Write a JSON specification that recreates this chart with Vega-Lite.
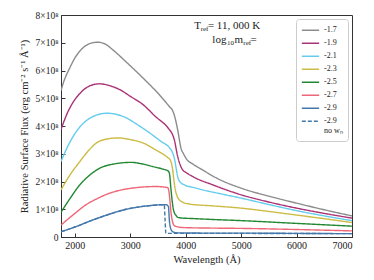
{
  "$schema": "https://vega.github.io/schema/vega-lite/v6.json",
  "width": 291,
  "height": 222,
  "autosize": {"type": "none"},
  "padding": {"left": 61, "top": 15, "right": 22, "bottom": 43},
  "config": {
    "font": "Liberation Serif",
    "view": {"stroke": "#333333", "strokeWidth": 1},
    "text": {"fontWeight": "normal", "color": "#222222"},
    "axis": {"grid": false, "domainColor": "#333333", "tickColor": "#333333", "labelColor": "#222222", "titleColor": "#222222", "labelFont": "Liberation Serif", "titleFont": "Liberation Serif", "titleFontWeight": "normal", "labelFontWeight": "normal", "labelFontSize": 10, "titleFontSize": 10.5, "labelOverlap": false}
  },
  "layer": [
    {
      "data": {"values": [
        {"series": "-1.7", "wl": 1750, "flux": 5.28}, {"series": "-1.7", "wl": 1800, "flux": 5.6}, {"series": "-1.7", "wl": 1910, "flux": 6.1}, {"series": "-1.7", "wl": 2000, "flux": 6.45}, {"series": "-1.7", "wl": 2090, "flux": 6.7}, {"series": "-1.7", "wl": 2200, "flux": 6.9}, {"series": "-1.7", "wl": 2300, "flux": 6.99}, {"series": "-1.7", "wl": 2420, "flux": 7.02}, {"series": "-1.7", "wl": 2550, "flux": 6.95}, {"series": "-1.7", "wl": 2700, "flux": 6.72}, {"series": "-1.7", "wl": 2930, "flux": 6.3}, {"series": "-1.7", "wl": 3100, "flux": 5.98}, {"series": "-1.7", "wl": 3290, "flux": 5.61}, {"series": "-1.7", "wl": 3500, "flux": 5.18}, {"series": "-1.7", "wl": 3705, "flux": 4.7}, {"series": "-1.7", "wl": 3765, "flux": 4.55}, {"series": "-1.7", "wl": 3800, "flux": 4.35}, {"series": "-1.7", "wl": 3855, "flux": 3.86}, {"series": "-1.7", "wl": 3915, "flux": 3.2}, {"series": "-1.7", "wl": 3960, "flux": 3.0}, {"series": "-1.7", "wl": 4004, "flux": 2.84}, {"series": "-1.7", "wl": 4150, "flux": 2.6}, {"series": "-1.7", "wl": 4300, "flux": 2.42}, {"series": "-1.7", "wl": 4600, "flux": 2.08}, {"series": "-1.7", "wl": 5000, "flux": 1.76}, {"series": "-1.7", "wl": 5500, "flux": 1.47}, {"series": "-1.7", "wl": 6000, "flux": 1.22}, {"series": "-1.7", "wl": 6500, "flux": 0.98}, {"series": "-1.7", "wl": 7000, "flux": 0.76},
        {"series": "-1.9", "wl": 1750, "flux": 3.87}, {"series": "-1.9", "wl": 1850, "flux": 4.4}, {"series": "-1.9", "wl": 1960, "flux": 4.83}, {"series": "-1.9", "wl": 2080, "flux": 5.15}, {"series": "-1.9", "wl": 2200, "flux": 5.37}, {"series": "-1.9", "wl": 2330, "flux": 5.49}, {"series": "-1.9", "wl": 2450, "flux": 5.52}, {"series": "-1.9", "wl": 2600, "flux": 5.47}, {"series": "-1.9", "wl": 2810, "flux": 5.31}, {"series": "-1.9", "wl": 3000, "flux": 5.07}, {"series": "-1.9", "wl": 3230, "flux": 4.77}, {"series": "-1.9", "wl": 3450, "flux": 4.35}, {"series": "-1.9", "wl": 3705, "flux": 3.87}, {"series": "-1.9", "wl": 3760, "flux": 3.7}, {"series": "-1.9", "wl": 3795, "flux": 3.5}, {"series": "-1.9", "wl": 3855, "flux": 2.9}, {"series": "-1.9", "wl": 3900, "flux": 2.6}, {"series": "-1.9", "wl": 3944, "flux": 2.42}, {"series": "-1.9", "wl": 4000, "flux": 2.33}, {"series": "-1.9", "wl": 4124, "flux": 2.18}, {"series": "-1.9", "wl": 4500, "flux": 1.87}, {"series": "-1.9", "wl": 5000, "flux": 1.52}, {"series": "-1.9", "wl": 5500, "flux": 1.26}, {"series": "-1.9", "wl": 6000, "flux": 1.04}, {"series": "-1.9", "wl": 6500, "flux": 0.85}, {"series": "-1.9", "wl": 7000, "flux": 0.68},
        {"series": "-2.1", "wl": 1750, "flux": 2.72}, {"series": "-2.1", "wl": 1880, "flux": 3.3}, {"series": "-2.1", "wl": 2030, "flux": 3.81}, {"series": "-2.1", "wl": 2200, "flux": 4.18}, {"series": "-2.1", "wl": 2400, "flux": 4.4}, {"series": "-2.1", "wl": 2570, "flux": 4.46}, {"series": "-2.1", "wl": 2750, "flux": 4.42}, {"series": "-2.1", "wl": 2930, "flux": 4.29}, {"series": "-2.1", "wl": 3150, "flux": 4.02}, {"series": "-2.1", "wl": 3350, "flux": 3.75}, {"series": "-2.1", "wl": 3550, "flux": 3.45}, {"series": "-2.1", "wl": 3705, "flux": 3.22}, {"series": "-2.1", "wl": 3760, "flux": 3.05}, {"series": "-2.1", "wl": 3795, "flux": 2.84}, {"series": "-2.1", "wl": 3830, "flux": 2.45}, {"series": "-2.1", "wl": 3855, "flux": 2.18}, {"series": "-2.1", "wl": 3900, "flux": 1.98}, {"series": "-2.1", "wl": 3974, "flux": 1.88}, {"series": "-2.1", "wl": 4150, "flux": 1.78}, {"series": "-2.1", "wl": 4300, "flux": 1.7}, {"series": "-2.1", "wl": 4600, "flux": 1.57}, {"series": "-2.1", "wl": 5000, "flux": 1.4}, {"series": "-2.1", "wl": 5500, "flux": 1.17}, {"series": "-2.1", "wl": 6000, "flux": 0.95}, {"series": "-2.1", "wl": 6500, "flux": 0.76}, {"series": "-2.1", "wl": 7000, "flux": 0.59},
        {"series": "-2.3", "wl": 1750, "flux": 1.7}, {"series": "-2.3", "wl": 1900, "flux": 2.2}, {"series": "-2.3", "wl": 2090, "flux": 2.72}, {"series": "-2.3", "wl": 2250, "flux": 3.12}, {"series": "-2.3", "wl": 2390, "flux": 3.39}, {"series": "-2.3", "wl": 2550, "flux": 3.52}, {"series": "-2.3", "wl": 2780, "flux": 3.57}, {"series": "-2.3", "wl": 3000, "flux": 3.51}, {"series": "-2.3", "wl": 3230, "flux": 3.39}, {"series": "-2.3", "wl": 3450, "flux": 3.15}, {"series": "-2.3", "wl": 3676, "flux": 2.86}, {"series": "-2.3", "wl": 3720, "flux": 2.78}, {"series": "-2.3", "wl": 3765, "flux": 2.42}, {"series": "-2.3", "wl": 3790, "flux": 2.0}, {"series": "-2.3", "wl": 3813, "flux": 1.7}, {"series": "-2.3", "wl": 3850, "flux": 1.45}, {"series": "-2.3", "wl": 3885, "flux": 1.34}, {"series": "-2.3", "wl": 3950, "flux": 1.25}, {"series": "-2.3", "wl": 4064, "flux": 1.19}, {"series": "-2.3", "wl": 4500, "flux": 1.12}, {"series": "-2.3", "wl": 5000, "flux": 1.04}, {"series": "-2.3", "wl": 5500, "flux": 0.92}, {"series": "-2.3", "wl": 6000, "flux": 0.79}, {"series": "-2.3", "wl": 6500, "flux": 0.66}, {"series": "-2.3", "wl": 7000, "flux": 0.52},
        {"series": "-2.5", "wl": 1750, "flux": 0.89}, {"series": "-2.5", "wl": 1900, "flux": 1.35}, {"series": "-2.5", "wl": 2090, "flux": 1.88}, {"series": "-2.5", "wl": 2250, "flux": 2.2}, {"series": "-2.5", "wl": 2450, "flux": 2.48}, {"series": "-2.5", "wl": 2700, "flux": 2.63}, {"series": "-2.5", "wl": 3020, "flux": 2.69}, {"series": "-2.5", "wl": 3200, "flux": 2.64}, {"series": "-2.5", "wl": 3400, "flux": 2.54}, {"series": "-2.5", "wl": 3600, "flux": 2.44}, {"series": "-2.5", "wl": 3676, "flux": 2.39}, {"series": "-2.5", "wl": 3705, "flux": 2.3}, {"series": "-2.5", "wl": 3735, "flux": 1.7}, {"series": "-2.5", "wl": 3765, "flux": 1.15}, {"series": "-2.5", "wl": 3790, "flux": 0.9}, {"series": "-2.5", "wl": 3825, "flux": 0.78}, {"series": "-2.5", "wl": 3855, "flux": 0.71}, {"series": "-2.5", "wl": 3950, "flux": 0.68}, {"series": "-2.5", "wl": 4064, "flux": 0.67}, {"series": "-2.5", "wl": 4500, "flux": 0.63}, {"series": "-2.5", "wl": 5000, "flux": 0.59}, {"series": "-2.5", "wl": 6000, "flux": 0.49}, {"series": "-2.5", "wl": 7000, "flux": 0.39},
        {"series": "-2.7", "wl": 1750, "flux": 0.43}, {"series": "-2.7", "wl": 2000, "flux": 0.85}, {"series": "-2.7", "wl": 2200, "flux": 1.16}, {"series": "-2.7", "wl": 2420, "flux": 1.4}, {"series": "-2.7", "wl": 2630, "flux": 1.58}, {"series": "-2.7", "wl": 2850, "flux": 1.7}, {"series": "-2.7", "wl": 3110, "flux": 1.78}, {"series": "-2.7", "wl": 3300, "flux": 1.81}, {"series": "-2.7", "wl": 3470, "flux": 1.82}, {"series": "-2.7", "wl": 3600, "flux": 1.8}, {"series": "-2.7", "wl": 3676, "flux": 1.78}, {"series": "-2.7", "wl": 3700, "flux": 1.6}, {"series": "-2.7", "wl": 3720, "flux": 1.2}, {"series": "-2.7", "wl": 3740, "flux": 0.8}, {"series": "-2.7", "wl": 3770, "flux": 0.5}, {"series": "-2.7", "wl": 3800, "flux": 0.4}, {"series": "-2.7", "wl": 3950, "flux": 0.34}, {"series": "-2.7", "wl": 4500, "flux": 0.32}, {"series": "-2.7", "wl": 5000, "flux": 0.31}, {"series": "-2.7", "wl": 6000, "flux": 0.27}, {"series": "-2.7", "wl": 7000, "flux": 0.22},
        {"series": "-2.9", "wl": 1750, "flux": 0.19}, {"series": "-2.9", "wl": 2000, "flux": 0.36}, {"series": "-2.9", "wl": 2320, "flux": 0.61}, {"series": "-2.9", "wl": 2620, "flux": 0.82}, {"series": "-2.9", "wl": 2930, "flux": 1.0}, {"series": "-2.9", "wl": 3150, "flux": 1.08}, {"series": "-2.9", "wl": 3350, "flux": 1.13}, {"series": "-2.9", "wl": 3550, "flux": 1.16}, {"series": "-2.9", "wl": 3646, "flux": 1.16}, {"series": "-2.9", "wl": 3688, "flux": 1.1}, {"series": "-2.9", "wl": 3705, "flux": 0.6}, {"series": "-2.9", "wl": 3730, "flux": 0.3}, {"series": "-2.9", "wl": 3765, "flux": 0.19}, {"series": "-2.9", "wl": 3855, "flux": 0.15}, {"series": "-2.9", "wl": 4500, "flux": 0.14}, {"series": "-2.9", "wl": 5000, "flux": 0.14}, {"series": "-2.9", "wl": 6000, "flux": 0.13}, {"series": "-2.9", "wl": 7000, "flux": 0.12},
        {"series": "-2.9 no wn", "wl": 1750, "flux": 0.19}, {"series": "-2.9 no wn", "wl": 2000, "flux": 0.36}, {"series": "-2.9 no wn", "wl": 2320, "flux": 0.61}, {"series": "-2.9 no wn", "wl": 2620, "flux": 0.82}, {"series": "-2.9 no wn", "wl": 2930, "flux": 1.0}, {"series": "-2.9 no wn", "wl": 3150, "flux": 1.08}, {"series": "-2.9 no wn", "wl": 3350, "flux": 1.13}, {"series": "-2.9 no wn", "wl": 3550, "flux": 1.16}, {"series": "-2.9 no wn", "wl": 3612, "flux": 1.16}, {"series": "-2.9 no wn", "wl": 3628, "flux": 0.6}, {"series": "-2.9 no wn", "wl": 3642, "flux": 0.13}, {"series": "-2.9 no wn", "wl": 3855, "flux": 0.13}, {"series": "-2.9 no wn", "wl": 4500, "flux": 0.13}, {"series": "-2.9 no wn", "wl": 7000, "flux": 0.12}
      ]},
      "mark": {"type": "line", "strokeWidth": 1.4, "interpolate": "monotone", "clip": true},
      "encoding": {
        "x": {"field": "wl", "type": "quantitative", "scale": {"domain": [1750, 7000], "nice": false, "zero": false},
          "axis": {"title": "Wavelength (Å)", "values": [2000, 3000, 4000, 5000, 6000, 7000], "tickCount": 6, "format": "d", "tickSize": -4, "labelPadding": 7, "titlePadding": 4, "labelOverlap": false}},
        "y": {"field": "flux", "type": "quantitative", "scale": {"domain": [0, 8], "nice": false},
          "axis": {"title": "Radiative Surface Flux (erg cm⁻² s⁻¹ Å⁻¹)", "values": [0, 1, 2, 3, 4, 5, 6, 7, 8], "tickCount": 9, "labelExpr": "datum.value == 0 ? '0' : datum.value + '×10⁸'", "tickSize": -4, "labelPadding": 7, "titlePadding": 6, "labelOverlap": false, "labelFontSize": 9.5}},
        "color": {"field": "series", "type": "nominal",
          "scale": {"domain": ["-1.7", "-1.9", "-2.1", "-2.3", "-2.5", "-2.7", "-2.9", "-2.9 no wn"], "range": ["#8c8c8c", "#aa3377", "#66ccee", "#ccbb44", "#228833", "#ee6677", "#4477aa", "#4477aa"]},
          "legend": {"title": null, "orient": "top-right", "offset": 4, "strokeColor": "#cccccc", "cornerRadius": 3, "padding": 5, "symbolType": "stroke", "symbolSize": 300, "symbolStrokeWidth": 1.5, "labelFontSize": 8, "labelFont": "Liberation Serif", "labelColor": "#222222", "rowPadding": 0, "clipHeight": 12.5, "labelExpr": "datum.label == '-2.9 no wn' ? ['-2.9', 'no wₙ'] : datum.label"}},
        "strokeDash": {"field": "series", "type": "nominal",
          "scale": {"domain": ["-1.7", "-1.9", "-2.1", "-2.3", "-2.5", "-2.7", "-2.9", "-2.9 no wn"], "range": [[1, 0], [1, 0], [1, 0], [1, 0], [1, 0], [1, 0], [1, 0], [4, 2]]}}
      }
    },
    {"data": {"values": [{}]}, "mark": {"type": "text", "align": "left", "baseline": "middle", "fontSize": 11, "font": "Liberation Serif", "fontWeight": "normal", "text": "T"}, "encoding": {"x": {"datum": 4154}, "y": {"datum": 7.62}}},
    {"data": {"values": [{}]}, "mark": {"type": "text", "align": "left", "baseline": "middle", "fontSize": 7, "font": "Liberation Serif", "fontWeight": "normal", "text": "ref", "dy": 3}, "encoding": {"x": {"datum": 4270}, "y": {"datum": 7.62}}},
    {"data": {"values": [{}]}, "mark": {"type": "text", "align": "left", "baseline": "middle", "fontSize": 11, "font": "Liberation Serif", "fontWeight": "normal", "text": "= 11, 000 K"}, "encoding": {"x": {"datum": 4400}, "y": {"datum": 7.62}}},
    {"data": {"values": [{}]}, "mark": {"type": "text", "align": "left", "baseline": "middle", "fontSize": 11, "font": "Liberation Serif", "fontWeight": "normal", "text": "log"}, "encoding": {"x": {"datum": 4480}, "y": {"datum": 7.11}}},
    {"data": {"values": [{}]}, "mark": {"type": "text", "align": "left", "baseline": "middle", "fontSize": 7, "font": "Liberation Serif", "fontWeight": "normal", "text": "10", "dy": 3}, "encoding": {"x": {"datum": 4745}, "y": {"datum": 7.11}}},
    {"data": {"values": [{}]}, "mark": {"type": "text", "align": "left", "baseline": "middle", "fontSize": 11, "font": "Liberation Serif", "fontWeight": "normal", "text": "m"}, "encoding": {"x": {"datum": 4880}, "y": {"datum": 7.11}}},
    {"data": {"values": [{}]}, "mark": {"type": "text", "align": "left", "baseline": "middle", "fontSize": 7, "font": "Liberation Serif", "fontWeight": "normal", "text": "ref", "dy": 3}, "encoding": {"x": {"datum": 5040}, "y": {"datum": 7.11}}},
    {"data": {"values": [{}]}, "mark": {"type": "text", "align": "left", "baseline": "middle", "fontSize": 11, "font": "Liberation Serif", "fontWeight": "normal", "text": "="}, "encoding": {"x": {"datum": 5170}, "y": {"datum": 7.11}}}
  ]
}
